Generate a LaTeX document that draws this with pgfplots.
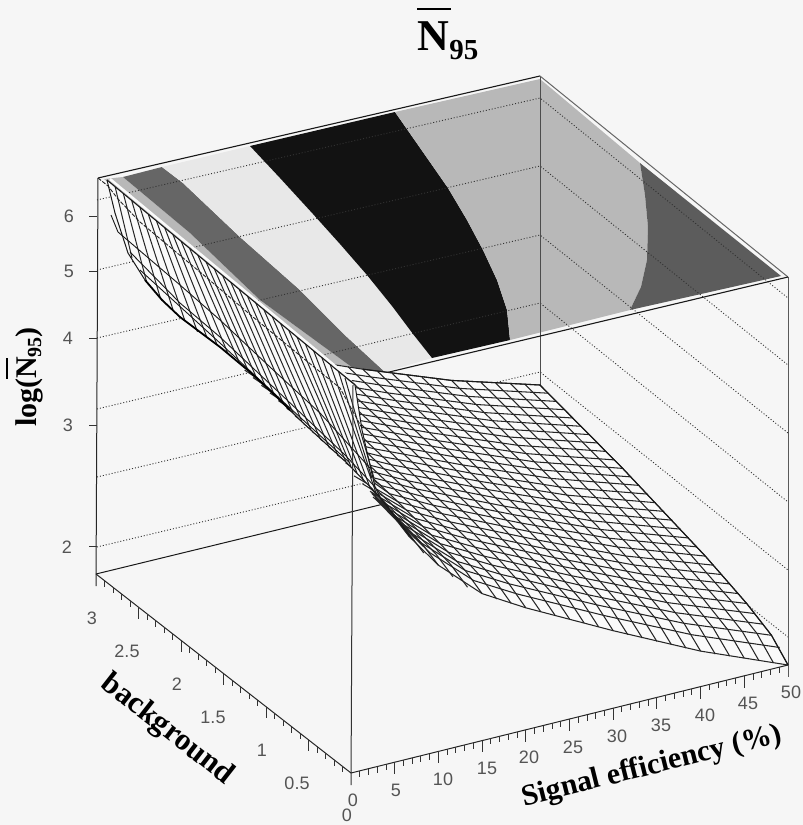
\documentclass[border=0pt]{standalone}
\usepackage{pgfplots}
\pgfplotsset{compat=1.18}
\usepackage{fontspec}
\setmainfont{Liberation Sans}
\newfontfamily\tms{Liberation Serif}
\definecolor{bgc}{gray}{0.965}
\definecolor{lab}{gray}{0.33}
\begin{document}
\begin{tikzpicture}
\begin{axis}[
  width=803pt,height=825pt,scale only axis,
  xmin=0,xmax=803,ymin=0,ymax=825,y dir=reverse,
  axis lines=none,clip=true,unbounded coords=jump,
  tick label style={font=\small}]
% background
\addplot[fill=bgc,draw=none] coordinates {(0,0)(803,0)(803,825)(0,825)} --cycle;
% contour bands on the top plane
\addplot[fill={black!28},draw=none] coordinates {(104,179)(123,177)(190,233)(260,300)(353,368)(362,375)(355,385)} --cycle;
\addplot[fill={black!60},draw=none] coordinates {(123,177)(162,167)(183,183)(240,237)(300,290)(347,337)(385,372)(385,376)(362,376)(353,368)(260,300)(190,233)} --cycle;
\addplot[fill={black!9},draw=none] coordinates {(162,167)(250,146)(280,178)(313,214)(340,244)(367,275)(392,306)(413,334)(432,358)(385,372)(347,337)(300,290)(240,237)(183,183)} --cycle;
\addplot[fill={black!93},draw=none] coordinates {(250,146)(395,112)(425,155)(448,188)(467,220)(483,250)(497,280)(507,310)(510,340)(432,358)(413,334)(392,306)(367,275)(340,244)(313,214)(280,178)} --cycle;
\addplot[fill={black!28},draw=none] coordinates {(395,112)(540,79)(640,163)(645,195)(648,227)(647,260)(641,287)(630,310)(510,340)(507,310)(497,280)(483,250)(467,220)(448,188)(425,155)} --cycle;
\addplot[fill={black!64},draw=none] coordinates {(640,163)(781,276)(630,310)(641,287)(647,260)(648,227)(645,195)} --cycle;
% dotted wall lines
\addplot[black!80,line width=0.9pt,dash pattern=on 1pt off 2pt] coordinates {
(97,200)(540,98)(788,298)(nan,nan)
(97,270)(540,166)(788,365)(nan,nan)
(97,338)(540,235)(788,433)(nan,nan)
(97,409)(540,303)(788,502)(nan,nan)
(97,477)(540,372)(788,570)(nan,nan)
(97,547)(540,441)(788,637)};
% box lines behind the surface
\addplot[black!70,line width=0.9pt] coordinates {(540,76)(540,390)};
\addplot[black!65,line width=0.9pt] coordinates {(788,277)(788,677)};
\addplot[black!85,line width=1pt] coordinates {(98,178)(96,586)};
\addplot[black!90,line width=1pt] coordinates {(96,574)(400,500)};
\addplot[black!90,line width=1.1pt] coordinates {(98,178)(540,76)};
\addplot[black!60,line width=1pt] coordinates {(540,76)(788,277)};
\addplot[black!90,line width=1.1pt] coordinates {(385,373)(788,277)};
% mesh: white underlay
\addplot[fill=black!2,draw=none] coordinates {(380,498)(394.7,517)(409.3,536.6)(438.4,565.2)(482.1,593.6)(525.8,607.8)(613.2,630.7)(700.6,651.1)(788,665)(771.5,635.3)(746.7,603.5)(705.3,556.1)(622.7,468.4)(540,385)(451.4,380.4)(362.8,369.2)(320,362)(350,430)} --cycle;
% mesh: background = const
\addplot[black!85,line width=1.05pt] coordinates {
(788,665)(700.6,651.1)(613.2,630.7)(525.8,607.8)(482.1,593.6)(438.4,565.2)(409.3,536.6)(394.7,517)(380,498)(nan,nan)
(779.7,647.5)(692.3,634.8)(604.9,615.7)(517.4,594)(473.7,580.5)(430,552.8)(400.9,524.6)(386.2,505)(nan,nan)
(771.5,635.3)(684,623.3)(596.5,604.8)(509,583.8)(465.3,570.5)(421.5,543.1)(392.4,515.1)(nan,nan)
(763.2,624.2)(675.7,612.7)(588.2,594.8)(500.6,574.3)(456.9,561.3)(413.1,534.1)(384,506.3)(nan,nan)
(754.9,613.6)(667.4,602.6)(579.8,585.1)(492.3,565.1)(448.5,552.2)(404.7,525.3)(375.5,497.6)(nan,nan)
(746.7,603.5)(659.1,592.9)(571.5,575.7)(483.9,556.1)(440.1,543.6)(396.3,516.9)(375,496.8)(nan,nan)
(738.4,593.6)(650.8,583.4)(563.1,566.6)(475.5,547.3)(431.7,535.1)(387.8,508.5)(372,493.6)(nan,nan)
(730.1,584)(642.4,574.1)(554.8,557.7)(467.1,538.7)(423.3,526.6)(379.4,500.2)(370,491)(nan,nan)
(721.9,574.6)(634.1,565)(546.4,548.9)(458.7,530.3)(414.8,518.3)(371,492)(nan,nan)
(713.6,565.2)(625.8,556)(538.1,540.1)(450.3,521.9)(406.4,510)(362.6,483.9)(nan,nan)
(705.3,556.1)(617.5,547)(529.7,531.6)(441.9,513.6)(398,501.8)(354.1,475.9)(nan,nan)
(697.1,546.9)(609.2,538.2)(521.4,523.1)(433.5,505.3)(389.6,493.7)(345.7,462.9)(nan,nan)
(688.8,538)(600.9,529.5)(513,514.6)(425.2,497.1)(381.2,485.6)(337.3,455)(nan,nan)
(680.5,529.1)(592.6,520.9)(504.7,506.2)(416.8,489)(372.8,477.6)(328.8,447.2)(nan,nan)
(672.3,520.2)(584.3,512.3)(496.3,497.9)(408.4,480.9)(364.4,469.6)(320.4,439.3)(nan,nan)
(664,511.4)(576,503.7)(488,489.6)(400,472.8)(356,461.7)(312,431.5)(nan,nan)
(655.7,502.7)(567.7,495.2)(479.6,481.3)(391.6,464.8)(347.6,453.9)(303.6,423.7)(nan,nan)
(647.5,494.1)(559.4,486.9)(471.3,473.2)(383.2,456.8)(339.2,446)(295.1,416)(nan,nan)
(639.2,485.4)(551.1,478.4)(463,465)(374.8,448.9)(330.8,438.2)(286.7,408.3)(nan,nan)
(630.9,476.9)(542.8,470.1)(454.6,456.9)(366.5,441)(322.4,430.4)(278.3,400.6)(nan,nan)
(622.7,468.4)(534.5,461.8)(446.3,448.7)(358.1,433.1)(313.9,422.6)(269.9,392.9)(nan,nan)
(614.4,459.9)(526.2,453.6)(437.9,440.7)(349.7,425.2)(305.6,414.8)(261.4,385.3)(nan,nan)
(606.1,451.4)(517.8,445.3)(429.6,432.6)(341.3,417.3)(297.1,407.1)(253,377.6)(nan,nan)
(597.9,443)(509.5,437)(421.2,424.6)(332.9,409.6)(288.7,399.3)(244.6,370.1)(nan,nan)
(589.6,434.6)(501.2,428.9)(412.9,416.6)(324.5,401.8)(280.3,391.6)(nan,nan)
(581.3,426.3)(492.9,420.7)(404.5,408.7)(316.1,394)(271.9,383.9)(nan,nan)
(573,418)(484.6,412.6)(396.2,400.7)(307.7,386.2)(263.5,376.4)(nan,nan)
(564.8,409.7)(476.3,404.5)(387.8,392.9)(299.3,378.5)(255.1,368.7)(nan,nan)
(556.5,401.4)(468,396.4)(379.5,384.9)(291,370.8)(246.7,361.1)(nan,nan)
(548.3,393.2)(459.7,388.4)(371.1,377)(282.6,363.1)(238.3,353.5)(nan,nan)
(540,385)(451.4,380.4)(362.8,369.2)(274.2,355.4)(229.9,345.9)};
% mesh: efficiency = const
\addplot[black!85,line width=1.05pt] coordinates {
(788,665)(771.5,635.3)(746.7,603.5)(705.3,556.1)(622.7,468.4)(540,385)(nan,nan)
(773.4,662.8)(756.9,633.4)(732,601.9)(690.7,554.7)(607.9,467.5)(525.2,384.5)(nan,nan)
(758.9,660.6)(742.3,631.5)(717.5,600.1)(676.1,553.3)(593.3,466.3)(510.5,383.6)(nan,nan)
(744.3,658.3)(727.7,629.5)(702.9,598.4)(661.4,551.8)(578.6,465.4)(495.7,383)(nan,nan)
(729.7,656.1)(713.1,627.7)(688.2,596.8)(646.8,550.4)(563.8,464.3)(480.9,382.2)(nan,nan)
(715.2,654)(698.6,625.9)(673.7,595.2)(632.2,549.1)(549.2,463.5)(466.2,381.7)(nan,nan)
(700.6,651.1)(684,623.3)(659.1,592.9)(617.5,547)(534.5,461.8)(451.4,380.4)(nan,nan)
(686,648.2)(669.4,620.7)(644.4,590.5)(602.9,545)(519.7,460.1)(436.6,379)(nan,nan)
(671.5,644.8)(654.9,617.6)(629.9,587.7)(588.3,542.4)(505.1,458)(421.9,377.2)(nan,nan)
(656.9,641.4)(640.2,614.5)(615.3,584.8)(573.6,539.8)(490.4,455.7)(407.1,375.2)(nan,nan)
(642.3,638)(625.6,611.4)(600.6,582)(559,537.3)(475.6,453.7)(392.3,373.5)(nan,nan)
(627.8,634.6)(611.1,608.4)(586.1,579.1)(544.4,534.6)(461,451.3)(377.6,371.4)(nan,nan)
(613.2,630.7)(596.5,604.8)(571.5,575.7)(529.7,531.6)(446.3,448.7)(362.8,369.2)(nan,nan)
(598.6,626.8)(581.9,601.2)(556.8,572.4)(515.1,528.5)(431.5,446)(348,366.7)(nan,nan)
(584.1,622.9)(567.4,597.6)(542.3,569.1)(500.5,525.4)(416.9,443.3)(333.3,364.4)(nan,nan)
(569.5,619)(552.8,594.1)(527.7,565.6)(485.8,522.3)(402.2,440.6)(318.5,361.9)(nan,nan)
(554.9,615.1)(538.2,590.5)(513,562.3)(471.2,519.3)(387.4,438)(303.7,359.7)(nan,nan)
(540.4,611.2)(523.6,586.8)(498.5,559)(456.6,516.2)(372.8,435.2)(289,357.3)(nan,nan)
(525.8,607.8)(509,583.8)(483.9,556.1)(441.9,513.6)(358.1,433.1)(274.2,355.4)(nan,nan)
(511.2,603.4)(494.4,579.7)(469.2,552.3)(427.3,510)(343.3,430)(259.4,352.7)(nan,nan)
(496.7,599)(479.9,575.6)(454.7,548.4)(412.7,506.4)(328.7,426.7)(nan,nan)
(482.1,593.6)(465.3,570.5)(440.1,543.6)(398,501.8)(313.9,422.6)(nan,nan)
(467.5,587.2)(450.7,564.5)(425.4,537.7)(383.4,496.2)(299.2,417.3)(nan,nan)
(453,576.8)(436.2,554.4)(410.9,527.9)(368.8,486.7)(nan,nan)
(438.4,565.2)(421.5,543.1)(396.3,516.9)(371,492)(nan,nan)
(423.8,553)(406.9,531.2)(381.6,505.2)(373,496.8)(nan,nan)
(409.3,536.6)(392.4,515.1)(375.5,497.6)(nan,nan)
(394.7,517)(386.2,505)(369.3,487)(nan,nan)
(380,498)(371.6,486)};
% outline of the mesh
\addplot[black!90,line width=1.1pt] coordinates {(788,665)(771.5,635.3)(746.7,603.5)(705.3,556.1)(622.7,468.4)(540,385)(451.4,380.4)(362.8,369.2)};
% steep part: white underlay and hatching
\addplot[draw=none,fill=black!2] coordinates {(107,180)(355,385)(362,430)(375,487)(380,497)(347,463)(300,420)(277,397)(250,372)(220,347)(180,317)(162,300)(145,280)(128,253)(115,213)} --cycle;
\addplot[black!85,line width=1pt] coordinates {
(115.2,187)(132,258)(nan,nan)
(123.4,193.8)(146.5,281.5)(nan,nan)
(131.7,200.6)(160.5,298.5)(nan,nan)
(140,207.4)(173,309.7)(nan,nan)
(148.3,214.3)(185,321)(nan,nan)
(156.5,221.1)(197.5,331.8)(nan,nan)
(164.8,227.9)(206.5,336.3)(nan,nan)
(173,234.7)(217,344.7)(nan,nan)
(181.3,241.6)(227.7,353)(nan,nan)
(189.6,248.4)(240,364)(nan,nan)
(197.9,255.2)(248,370.4)(nan,nan)
(206.1,262)(257,379)(nan,nan)
(214.4,268.9)(265.5,386.4)(nan,nan)
(222.7,275.7)(274,394)(nan,nan)
(231,282.6)(283,402.6)(nan,nan)
(239.2,289.4)(293,413)(nan,nan)
(247.5,296.2)(302,421.6)(nan,nan)
(255.8,303)(311,430)(nan,nan)
(264,309.9)(320,438.5)(nan,nan)
(272.3,316.7)(329,447)(nan,nan)
(280.6,323.5)(337.5,454.4)(nan,nan)
(288.8,330.4)(346,462)(nan,nan)
(297.1,337.2)(351,466.6)(nan,nan)
(305.4,344)(357,473)(nan,nan)
(313.7,350.9)(363.3,480)(nan,nan)
(321.9,357.7)(369.5,486.2)(nan,nan)
(330.2,364.5)(376,492.7)(nan,nan)
(338.5,371.3)(372,478)(nan,nan)
(345,378)(374,478)};
% long curves of the steep part
\addplot[black!85,line width=0.9pt,dash pattern=on 4pt off 1.5pt] coordinates {(98,178)(108,186)(118,199)(140,222)(200,272)(253,317)(303,358)(340,388)(362,428)};
\addplot[black!90,line width=0.9pt] coordinates {(111,215)(118,232)(180,285)(220,320)(270,367)(320,413)(370,468)};
\addplot[black!90,line width=0.9pt] coordinates {(130,252)(180,303)(220,337)(287,400)(345,455)(376,488)};
\addplot[black!90,line width=0.9pt] coordinates {(140,270)(220,343)(290,408)(350,463)};
\addplot[black,line width=1.8pt] coordinates {(145,280)(162,300)(180,317)(220,347)(250,372)(277,397)(290,410)};
\addplot[black!90,line width=1pt] coordinates {(107,180)(115,213)(128,253)(145,280)};
\addplot[black!90,line width=1.1pt] coordinates {(290,410)(300,420)(347,463)(380,497)(413,540)};
\addplot[black!90,line width=1pt] coordinates {(355,385)(362,430)(375,487)(380,497)};
% edge of the top of the surface
\addplot[black!2,line width=2.5pt] coordinates {(110,179)(352,380)};
\addplot[black!90,line width=1.1pt] coordinates {(107,180)(355,385)};
% front vertical and floor axes
\addplot[black!80,line width=1pt] coordinates {(353,385)(351,785)};
\addplot[black!85,line width=1pt] coordinates {(351,773)(96,574)};
\addplot[black!85,line width=1pt] coordinates {(351,773)(788,665)};
% ticks: log axis
\addplot[black!80,line width=0.9pt] coordinates {
(89,216)(97,216)(nan,nan)(89,271)(97,271)(nan,nan)(89,338)(97,338)(nan,nan)(89,425)(97,425)(nan,nan)(89,546)(97,546)};
% ticks: background
\addplot[black!80,line width=0.9pt] coordinates {
(308.5,739.8)(308.5,751)(nan,nan)(266,706.7)(266,718)(nan,nan)(223.5,673.5)(223.5,685)(nan,nan)(181,640.3)(181,651.5)(nan,nan)(138.5,607.2)(138.5,618.5)(nan,nan)
(342.5,766.4)(342.5,772.4)(nan,nan)(334,759.7)(334,765.7)(nan,nan)(325.5,753.1)(325.5,759.1)(nan,nan)(317,746.5)(317,752.5)(nan,nan)
(300,733.2)(300,739.2)(nan,nan)(291.5,726.6)(291.5,732.6)(nan,nan)(283,720)(283,726)(nan,nan)(274.5,713.3)(274.5,719.3)(nan,nan)
(257.5,700)(257.5,706)(nan,nan)(249,693.4)(249,699.4)(nan,nan)(240.5,686.8)(240.5,692.8)(nan,nan)(232,680.2)(232,686.2)(nan,nan)
(215,666.9)(215,672.9)(nan,nan)(206.5,660.3)(206.5,666.3)(nan,nan)(198,653.7)(198,659.7)(nan,nan)(189.5,647)(189.5,653)(nan,nan)
(172.5,633.8)(172.5,639.8)(nan,nan)(164,627.1)(164,633.1)(nan,nan)(155.5,620.5)(155.5,626.5)(nan,nan)(147,613.9)(147,619.9)(nan,nan)
(130,600.6)(130,606.6)(nan,nan)(121.5,594)(121.5,600)(nan,nan)(113,587.4)(113,593.4)(nan,nan)(104.5,580.8)(104.5,586.8)};
% ticks: efficiency
\addplot[black!80,line width=0.9pt] coordinates {
(394.7,762.2)(394.7,774)(nan,nan)(438.4,751.4)(438.4,763)(nan,nan)(482.1,740.6)(482.1,752)(nan,nan)(525.8,729.8)(525.8,741.5)(nan,nan)(569.5,719)(569.5,731)(nan,nan)
(613.2,708.2)(613.2,720)(nan,nan)(656.9,697.4)(656.9,709)(nan,nan)(700.6,686.6)(700.6,698.5)(nan,nan)(744.3,675.8)(744.3,688)(nan,nan)
(359.7,770.8)(359.7,776.8)(nan,nan)(368.5,768.7)(368.5,774.7)(nan,nan)(377.2,766.5)(377.2,772.5)(nan,nan)(386,764.4)(386,770.4)(nan,nan)
(403.4,760)(403.4,766)(nan,nan)(412.2,757.9)(412.2,763.9)(nan,nan)(420.9,755.7)(420.9,761.7)(nan,nan)(429.7,753.6)(429.7,759.6)(nan,nan)
(447.1,749.2)(447.1,755.2)(nan,nan)(455.9,747.1)(455.9,753.1)(nan,nan)(464.6,744.9)(464.6,750.9)(nan,nan)(473.4,742.8)(473.4,748.8)(nan,nan)
(490.8,738.4)(490.8,744.4)(nan,nan)(499.6,736.3)(499.6,742.3)(nan,nan)(508.3,734.1)(508.3,740.1)(nan,nan)(517.1,732)(517.1,738)(nan,nan)
(534.5,727.6)(534.5,733.6)(nan,nan)(543.3,725.5)(543.3,731.5)(nan,nan)(552,723.3)(552,729.3)(nan,nan)(560.8,721.2)(560.8,727.2)(nan,nan)
(578.2,716.8)(578.2,722.8)(nan,nan)(587,714.7)(587,720.7)(nan,nan)(595.7,712.5)(595.7,718.5)(nan,nan)(604.5,710.4)(604.5,716.4)(nan,nan)
(621.9,706)(621.9,712)(nan,nan)(630.7,703.9)(630.7,709.9)(nan,nan)(639.4,701.7)(639.4,707.7)(nan,nan)(648.2,699.6)(648.2,705.6)(nan,nan)
(665.6,695.2)(665.6,701.2)(nan,nan)(674.4,693.1)(674.4,699.1)(nan,nan)(683.1,690.9)(683.1,696.9)(nan,nan)(691.9,688.8)(691.9,694.8)(nan,nan)
(709.3,684.4)(709.3,690.4)(nan,nan)(718.1,682.3)(718.1,688.3)(nan,nan)(726.8,680.1)(726.8,686.1)(nan,nan)(735.6,678)(735.6,684)(nan,nan)
(753,673.6)(753,679.6)(nan,nan)(761.8,671.5)(761.8,677.5)(nan,nan)(770.5,669.3)(770.5,675.3)(nan,nan)(779.3,667.2)(779.3,673.2)};
% overbars of the title and the axis label
\addplot[black,line width=1.3pt] coordinates {(417,9)(451,9)};
\addplot[black,line width=1.3pt] coordinates {(7,358)(7,379)};
% texts
\def\tl{\fontsize{18}{18}\selectfont\color{lab}}
\foreach \p/\q/\t in {69/216/6,69/271/5,68/338/4,68/425/3,67/547/2,
  353/800/0,396/790/5,443/779/10,487/768/15,529/757/20,573/747/25,617/736/30,661/725/35,705/715/40,748/703/45,791/692/50,
  347/815/0,297/783/0.5,262/750/1,213/717/1.5,177/684/2,127/651/2.5,92/618/3}{
  \edef\tmp{\noexpand\node[inner sep=0pt,anchor=center] at (axis cs:\p,\q) {\noexpand\tl \t};}\tmp
}
\node[inner sep=0pt,anchor=base] at (axis cs:448,50) {\tms\bfseries\fontsize{44}{44}\selectfont N\raisebox{-9pt}{\fontsize{29}{29}\selectfont 95}};
\node[inner sep=0pt,rotate=90,anchor=base] at (axis cs:36,377) {\tms\bfseries\fontsize{30}{30}\selectfont log(N\raisebox{-5pt}{\fontsize{20}{20}\selectfont 95})};
\node[inner sep=0pt,rotate=-38] at (axis cs:167,730) {\tms\bfseries\fontsize{31}{31}\selectfont background};
\node[inner sep=0pt,rotate=14] at (axis cs:652,767) {\tms\bfseries\fontsize{30}{30}\selectfont Signal efficiency (\%)};
\end{axis}
\end{tikzpicture}
\end{document}
